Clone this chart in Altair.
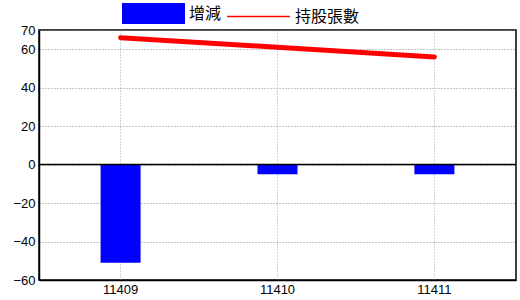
import altair as alt
import pandas as pd

months = ["11409", "11410", "11411"]
change = [-51, -5, -5]
holdings = [66, 61, 56]
bar_name = "增減"
line_name = "持股張數"
y_ticks = [-60, -40, -20, 0, 20, 40, 60, 70]

df = pd.DataFrame({
    "month": months,
    "change": change,
    "holdings": holdings,
    "bar_label": [bar_name] * len(months),
    "line_label": [line_name] * len(months),
})

label_font = "Liberation Sans Narrow, Liberation Sans, sans-serif"

x_axis = alt.Axis(
    title=None, labelAngle=0, ticks=False, domain=True, domainColor="black",
    domainWidth=1.5, grid=True, labelOverlap=False,
    gridColor="#8fa9c6", gridDash=[1, 2], gridWidth=1,
    labelFont=label_font, labelFontSize=13, labelColor="black",
    labelPadding=3,
)
x_scale = alt.Scale(paddingInner=0, paddingOuter=0.02)

y_scale = alt.Scale(domain=[-60, 70], nice=False, zero=False)
y_axis = alt.Axis(
    title=None, values=y_ticks, ticks=False, domain=True, domainColor="black",
    domainWidth=1.5, grid=True, labelOverlap=False, labelFlush=False,
    gridColor="#8c8c8c", gridDash=[1, 2], gridWidth=1,
    labelFont=label_font, labelFontSize=13, labelColor="black",
    labelPadding=4,
)

bars = alt.Chart(df).mark_bar(size=40).encode(
    x=alt.X("month:N", sort=months, scale=x_scale, axis=x_axis),
    y=alt.Y("change:Q", scale=y_scale, axis=y_axis),
    fill=alt.Fill(
        "bar_label:N",
        scale=alt.Scale(domain=[bar_name], range=["#0000ff"]),
        legend=alt.Legend(
            title=None, orient="none", legendX=83, legendY=-48,
            symbolType="M-1,-0.333H1V0.333H-1Z", symbolSize=3969,
            symbolStrokeWidth=0, symbolOpacity=1,
            labelFont="Noto Sans CJK TC", labelFontSize=16, labelColor="black",
            labelOffset=4, padding=0,
        ),
    ),
)

line = alt.Chart(df).mark_line(strokeWidth=5, strokeCap="round").encode(
    x=alt.X("month:N", sort=months, scale=x_scale, axis=x_axis),
    y=alt.Y("holdings:Q", scale=y_scale, axis=y_axis),
    stroke=alt.Stroke(
        "line_label:N",
        scale=alt.Scale(domain=[line_name], range=["#ff0000"]),
        legend=alt.Legend(
            title=None, orient="none", legendX=187, legendY=-46,
            symbolType="stroke", symbolSize=3969, symbolStrokeWidth=1.5,
            labelFont="Noto Sans CJK TC", labelFontSize=16, labelColor="black",
            labelOffset=4, padding=0,
        ),
    ),
)

zero = alt.Chart(pd.DataFrame({"z": [0]})).mark_rule(color="black", strokeWidth=1.5).encode(
    y=alt.Y("z:Q", scale=y_scale, axis=y_axis)
)

chart = alt.layer(bars, zero, line).properties(
    width=477, height=250,
    background="white",
    autosize=alt.AutoSizeParams(type="none"),
    padding={"left": 39, "top": 30, "right": 4, "bottom": 20},
).configure_view(stroke="black", strokeWidth=1.5)

chart.save("out.html", embed_options={"renderer": "svg", "actions": False})
